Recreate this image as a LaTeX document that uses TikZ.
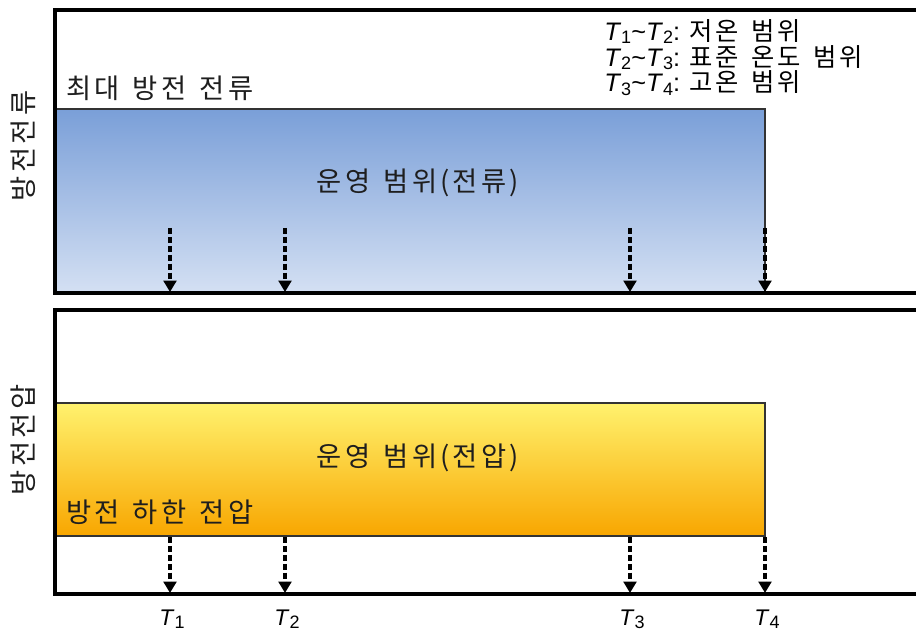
\documentclass[tikz,border=0pt]{standalone}
\usepackage{fontspec}
\setmainfont{Liberation Sans}
\newfontfamily\kr[LetterSpace=12,WordSpace=1.4]{Noto Sans CJK KR}
\usetikzlibrary{arrows.meta}
\definecolor{bluetop}{RGB}{122,159,216}
\definecolor{bluebot}{RGB}{212,224,243}
\definecolor{yeltop}{RGB}{255,242,110}
\definecolor{yelbot}{RGB}{248,166,0}
\definecolor{txt}{RGB}{30,30,30}
\tikzset{
  frame/.style={line width=3.2pt},
  krtext/.style={font=\kr\fontsize{20.5}{24}\selectfont, inner sep=0pt, text=txt},
  tlabel/.style={font=\fontsize{17}{20}\selectfont, inner sep=0pt},
  darrow/.style={line width=2.3pt, dash pattern=on 4.5pt off 2.2pt, -{Triangle[length=8.5pt,width=9.5pt]}},
}
\newcommand{\tl}[1]{\textit{T}\raisebox{-2.5pt}{\fontsize{13.5}{14}\selectfont #1}}
\begin{document}
\begin{tikzpicture}[x=0.75pt,y=-0.75pt]
\useasboundingbox (0,0) rectangle (916,634);
% filled ranges
\shade[top color=bluetop, bottom color=bluebot] (55,109) rectangle (765,293);
\draw[line width=0.8pt, black!80] (55,109) -- (765,109) -- (765,293);
\shade[top color=yeltop, bottom color=yelbot] (55,403) rectangle (765,536);
\draw[line width=0.8pt, black!80] (55,536) -- (55,403) -- (765,403) -- (765,536) -- (55,536);
% frames
\draw[frame] (920,10) -- (55,10) -- (55,293) -- (920,293);
\draw[frame] (920,310) -- (55,310) -- (55,594) -- (920,594);
% texts
\node[krtext, anchor=west] (imax) at (66,88) {최대 방전 전류};
\node[krtext] (opI) at (418,183) {운영 범위(전류)};
\node[krtext] (opV) at (418,458) {운영 범위(전압)};
\node[krtext, anchor=west] (vmin) at (66,512) {방전 하한 전압};
\node[krtext, rotate=90] (yI) at (23,146) {방전전류};
\node[krtext, rotate=90] (yV) at (23,440) {방전전압};
\node[anchor=north west, inner sep=0pt, align=left, font=\fontsize{19}{19.4}\selectfont] (leg) at (604,19)
  {\tl{1}\textasciitilde\tl{2}: {\kr 저온 범위}\\
   \tl{2}\textasciitilde\tl{3}: {\kr 표준 온도 범위}\\
   \tl{3}\textasciitilde\tl{4}: {\kr 고온 범위}};
% arrows
\foreach \n/\x in {1/170,2/285,3/630,4/765}{
  \coordinate (a\n) at (\x,228);
  \coordinate (b\n) at (\x,292);
  \coordinate (c\n) at (\x,537);
  \coordinate (d\n) at (\x,593);
  \draw[darrow] (a\n) -- (b\n);
  \draw[darrow] (c\n) -- (d\n);
  \node[tlabel] (t\n) at (\x+2,619) {\tl{\n}};
}
\end{tikzpicture}
\end{document}
